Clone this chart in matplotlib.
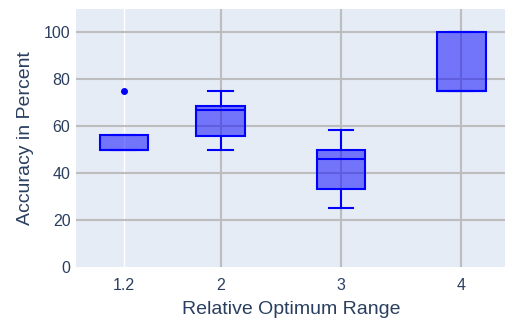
import matplotlib
matplotlib.use("Agg")
import matplotlib.pyplot as plt

# values (box stats per group)
positions = [1.2, 2, 3, 4]
tick_labels = ["1.2", "2", "3", "4"]
q1 = [50, 56, 33.3, 75]
med = [50, 67, 46, 75]
q3 = [56.2, 68.8, 50, 100]
whislo = [50, 50, 25.2, 75]
whishi = [56.2, 75, 58.4, 100]
fliers = [[75], [], [], []]

BG = "#E5ECF6"
TXT = "#2a3f5f"
GRID = "#BDBDBD"

plt.rcParams["font.family"] = ["Liberation Sans", "DejaVu Sans"]

fig = plt.figure(figsize=(5.06, 3.25), dpi=100)
ax = fig.add_axes([76 / 506, 58 / 325, 430 / 506, 258 / 325])
ax.set_facecolor(BG)

stats = []
for i in range(len(positions)):
    stats.append({
        "q1": q1[i], "med": med[i], "q3": q3[i],
        "whislo": whislo[i], "whishi": whishi[i], "fliers": fliers[i],
    })

ax.bxp(stats, positions=positions, widths=0.4, capwidths=0.2,
       patch_artist=True, manage_ticks=False,
       boxprops=dict(facecolor=(0, 0, 1, 0.5), edgecolor="blue", linewidth=1.5),
       medianprops=dict(color="blue", linewidth=1.5),
       whiskerprops=dict(color="blue", linewidth=1.5),
       capprops=dict(color="blue", linewidth=1.5),
       flierprops=dict(marker="o", markersize=4, markerfacecolor="blue",
                       markeredgecolor="blue"),
       zorder=3)

ax.set_xlim(0.8, 4.37)
ax.set_ylim(0, 110)

# grid: white line at 1.2, grey at the others
for x in positions:
    if x == 1.2:
        ax.axvline(x, color="white", lw=1, zorder=1)
    else:
        ax.axvline(x, color=GRID, lw=1.5, zorder=1)
for y in range(20, 101, 20):
    ax.axhline(y, color=GRID, lw=1.5, zorder=1)

ax.set_xticks(positions)
ax.set_xticklabels(tick_labels)
ax.set_yticks(range(0, 101, 20))
ax.tick_params(length=0, labelsize=11.5, colors=TXT)
ax.tick_params(axis="y", pad=4)
ax.tick_params(axis="x", pad=8)
for s in ax.spines.values():
    s.set_visible(False)

ax.set_xlabel("Relative Optimum Range", fontsize=14, color=TXT, labelpad=6)
ax.set_ylabel("Accuracy in Percent", fontsize=14, color=TXT, labelpad=7)

fig.savefig("out.png", dpi=100, facecolor="white")
